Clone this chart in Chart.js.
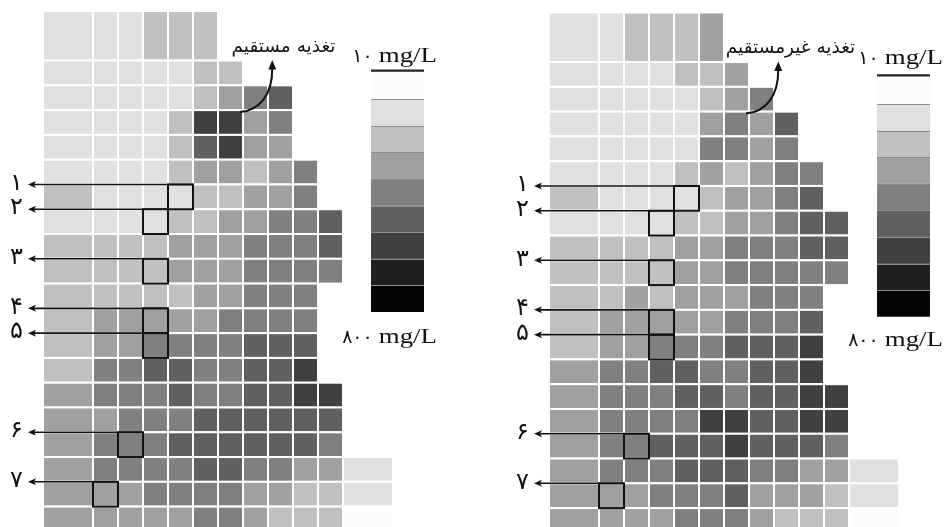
<!DOCTYPE html>
<html>
<head>
<meta charset="utf-8">
<script src="https://cdn.jsdelivr.net/npm/chart.js@4.4.1/dist/chart.umd.min.js"></script>
<style>
  html, body { margin: 0; padding: 0; background: #fff; }
  #wrap { position: relative; width: 945px; height: 527px; overflow: hidden; }
  canvas { position: absolute; top: 0; }
</style>
</head>
<body>
<div id="wrap">
  <canvas id="leftPanel" width="500" height="527" style="left:0"></canvas>
  <canvas id="rightPanel" width="439" height="527" style="left:506px"></canvas>
</div>
<script>
// grid geometry in model cell units (first/last column and first row are double size)
const colEdges = [0, 2, 3, 4, 5, 6, 7, 8, 9, 10, 11, 12, 14];
const rowEdges = [0, 2, 3, 4, 5, 6, 7, 8, 9, 10, 11, 12, 13, 14, 15, 16, 17, 18, 19, 20, 21];

// concentration class per cell (0 = lowest 10 mg/L ... 8 = highest 800 mg/L), row by row
const directRecharge = [
  [1, 1, 1, 2, 2, 2],
  [1, 1, 1, 1, 1, 2, 2],
  [1, 1, 1, 1, 1, 2, 3, 4, 5],
  [1, 1, 1, 1, 2, 6, 6, 3, 4],
  [1, 1, 1, 1, 2, 5, 6, 3, 3],
  [1, 1, 1, 1, 2, 3, 3, 2, 3, 4],
  [2, 1, 1, 1, 1, 2, 2, 3, 3, 4],
  [1, 1, 1, 1, 2, 2, 3, 3, 4, 4, 5],
  [2, 2, 2, 2, 3, 3, 3, 4, 4, 4, 5],
  [2, 2, 2, 2, 3, 3, 3, 4, 4, 4, 4],
  [2, 2, 2, 2, 2, 3, 3, 4, 4, 4],
  [2, 3, 3, 3, 3, 3, 4, 4, 4, 4],
  [2, 3, 3, 4, 4, 4, 4, 5, 5, 5],
  [2, 4, 4, 5, 5, 4, 4, 5, 5, 6],
  [3, 4, 4, 4, 5, 4, 4, 5, 5, 6, 6],
  [3, 3, 4, 4, 4, 5, 5, 5, 5, 5, 5],
  [3, 4, 4, 4, 5, 5, 5, 5, 5, 5, 4],
  [3, 4, 4, 4, 4, 5, 5, 4, 4, 3, 3, 1],
  [3, 3, 3, 4, 4, 4, 4, 3, 3, 2, 2, 1],
  [3, 3, 3, 3, 3, 4, 4, 3, 2, 2, 2, 0]
];
const indirectRecharge = [
  [1, 1, 2, 2, 2, 3],
  [1, 1, 1, 1, 2, 2, 3],
  [1, 1, 1, 1, 1, 2, 3, 4],
  [1, 1, 1, 1, 1, 3, 4, 3, 5],
  [1, 1, 1, 1, 1, 4, 4, 3, 4],
  [1, 1, 1, 1, 2, 3, 2, 3, 4, 4],
  [2, 1, 1, 1, 1, 2, 3, 3, 4, 5],
  [1, 1, 1, 1, 2, 2, 3, 3, 4, 5, 5],
  [2, 2, 2, 2, 3, 3, 4, 4, 4, 5, 5],
  [2, 2, 2, 2, 3, 3, 4, 4, 4, 4, 4],
  [2, 2, 3, 2, 3, 3, 3, 4, 4, 4],
  [2, 3, 3, 3, 3, 3, 4, 4, 4, 5],
  [2, 3, 3, 4, 4, 4, 5, 5, 5, 6],
  [3, 4, 4, 5, 5, 4, 4, 5, 5, 6],
  [3, 4, 4, 4, 5, 5, 4, 5, 5, 6, 6],
  [3, 4, 4, 4, 4, 6, 6, 5, 5, 6, 6],
  [3, 4, 4, 5, 5, 5, 6, 5, 5, 5, 4],
  [3, 4, 4, 4, 5, 5, 5, 4, 4, 3, 3, 1],
  [3, 3, 3, 4, 4, 4, 5, 3, 3, 3, 2, 1],
  [3, 3, 3, 3, 4, 4, 4, 3, 2, 2, 2, 0]
];

// observation cells marked with numbers
const markLabels = ['۱', '۲', '۳', '۴', '۵', '۶', '۷'];
const markCols = [4, 3, 3, 3, 3, 2, 1];
const markRows = [6, 7, 9, 11, 12, 16, 18];

// legend classes and labels
const legendClasses = [0, 1, 2, 3, 4, 5, 6, 7, 8];
const legendTop = '۱۰ mg/L';
const legendBottom = '۸۰۰ mg/L';
const panelTitles = ['تغذیه مستقیم', 'تغذیه غیرمستقیم'];

// styles
const GRAYS = ['#fcfcfc', '#e0e0e0', '#c0c0c0', '#a0a0a0', '#808080', '#606060', '#404040', '#202020', '#050505'];
const ROW_PX = 24.78;
const COL_PX = 25;

function buildCells(values) {
  const cells = [];
  values.forEach((row, r) => {
    row.forEach((v, c) => {
      cells.push({
        x: (colEdges[c] + colEdges[c + 1]) / 2,
        y: (rowEdges[r] + rowEdges[r + 1]) / 2,
        x0: colEdges[c], x1: colEdges[c + 1],
        y0: rowEdges[r], y1: rowEdges[r + 1],
        v: v
      });
    });
  });
  return cells;
}

// text stretched horizontally, anchored at its right edge; returns drawn width
function stretchedText(ctx, txt, xRight, y, sx) {
  ctx.save();
  ctx.translate(xRight, y);
  ctx.scale(sx, 1);
  ctx.textAlign = 'right';
  ctx.fillText(txt, 0, 0);
  const w = ctx.measureText(txt).width * sx;
  ctx.restore();
  return w;
}

// "۱۰ mg/L": unit in stretched serif, persian number left of it
function legendLabel(ctx, label, xRight, y) {
  const parts = label.split(' ');
  ctx.font = '21px "Liberation Serif"';
  const w = stretchedText(ctx, parts[1], xRight, y, 1.28);
  ctx.font = '19px "DejaVu Sans"';
  ctx.textAlign = 'right';
  ctx.fillText(parts[0], xRight - w - 6, y);
}

function makePanel(canvasId, values, title, topPx, legendShift, titleRight) {
  const canvas = document.getElementById(canvasId);
  const originX = 43;

  const panelPlugin = {
    id: 'gridPanel',
    afterDatasetsDraw(chart) {
      const ctx = chart.ctx;
      const xs = chart.scales.x;
      const ys = chart.scales.y;
      const X = v => xs.getPixelForValue(v);
      const Y = v => ys.getPixelForValue(v);
      ctx.save();

      // cells
      chart.data.datasets[0].data.forEach(cell => {
        const l = X(cell.x0), r = X(cell.x1), t = Y(cell.y0), b = Y(cell.y1);
        ctx.fillStyle = GRAYS[cell.v];
        ctx.fillRect(l, t, r - l, b - t);
        ctx.strokeStyle = '#ffffff';
        ctx.lineWidth = 2;
        ctx.strokeRect(l, t, r - l, b - t);
      });

      // marked cells with arrows and numbers
      markLabels.forEach((lab, i) => {
        const c = markCols[i], rr = markRows[i];
        const l = X(colEdges[c]), r = X(colEdges[c + 1]);
        const t = Y(rowEdges[rr]), b = Y(rowEdges[rr + 1]);
        ctx.strokeStyle = '#111';
        ctx.lineWidth = 2;
        ctx.strokeRect(l, t, r - l, b - t);
        const tip = X(-0.6);
        ctx.lineWidth = 1.6;
        ctx.beginPath();
        ctx.moveTo(r, t);
        ctx.lineTo(tip + 5, t);
        ctx.stroke();
        ctx.fillStyle = '#111';
        ctx.beginPath();
        ctx.moveTo(tip, t);
        ctx.lineTo(tip + 8, t - 3.5);
        ctx.lineTo(tip + 6, t);
        ctx.lineTo(tip + 8, t + 3.5);
        ctx.closePath();
        ctx.fill();
        ctx.font = '24px "DejaVu Sans"';
        ctx.textAlign = 'center';
        ctx.textBaseline = 'middle';
        ctx.fillText(lab, X(-1.06), t - 1);
      });

      // title with curved arrow
      ctx.fillStyle = '#111';
      ctx.font = '18.5px "DejaVu Sans"';
      ctx.direction = 'rtl';
      ctx.textBaseline = 'alphabetic';
      stretchedText(ctx, title, X(titleRight), Y(1.64), 1);
      ctx.direction = 'ltr';
      ctx.strokeStyle = '#111';
      ctx.lineWidth = 2;
      ctx.beginPath();
      ctx.moveTo(X(7.88), Y(4.08));
      ctx.bezierCurveTo(X(8.65), Y(4.0), X(9.18), Y(3.4), X(9.17), Y(2.3));
      ctx.stroke();
      ctx.beginPath();
      ctx.moveTo(X(9.17), Y(1.98));
      ctx.lineTo(X(9.17) - 4, Y(2.36));
      ctx.lineTo(X(9.17) + 4, Y(2.36));
      ctx.closePath();
      ctx.fill();

      // legend bar
      const lx0 = X(13.12), lx1 = X(15.24);
      const blockH = 1.073;
      const ly0 = 2.49 + legendShift;
      legendClasses.forEach((cls, k) => {
        const t = Y(ly0 + k * blockH), b = Y(ly0 + (k + 1) * blockH);
        ctx.fillStyle = GRAYS[cls];
        ctx.fillRect(lx0, t, lx1 - lx0, b - t);
        if (k > 0) {
          ctx.strokeStyle = '#8c8c8c';
          ctx.lineWidth = 1;
          ctx.beginPath();
          ctx.moveTo(lx0, Math.round(t) + 0.5);
          ctx.lineTo(lx1, Math.round(t) + 0.5);
          ctx.stroke();
        }
      });
      ctx.strokeStyle = '#222';
      ctx.lineWidth = 2.2;
      ctx.beginPath();
      ctx.moveTo(lx0, Y(ly0) - 2);
      ctx.lineTo(lx1, Y(ly0) - 2);
      ctx.stroke();

      ctx.fillStyle = '#111';
      ctx.textBaseline = 'alphabetic';
      legendLabel(ctx, legendTop, X(15.76), Y(2.04 + legendShift * 0.3));
      legendLabel(ctx, legendBottom, X(15.76), Y(13.4 + legendShift * 0.5));

      ctx.restore();
    }
  };

  return new Chart(canvas, {
    type: 'scatter',
    data: {
      datasets: [{
        label: title,
        data: buildCells(values),
        pointRadius: 0,
        pointHoverRadius: 0,
        showLine: false
      }]
    },
    options: {
      responsive: false,
      animation: false,
      events: [],
      layout: { padding: 0 },
      plugins: { legend: { display: false }, tooltip: { enabled: false } },
      scales: {
        x: { type: 'linear', display: false, min: -originX / COL_PX, max: (canvas.width - originX) / COL_PX },
        y: { type: 'linear', display: false, reverse: true, min: -topPx / ROW_PX, max: (canvas.height - topPx) / ROW_PX }
      }
    },
    plugins: [panelPlugin]
  });
}

makePanel('leftPanel', directRecharge, panelTitles[0], 11, 0, 11.7);
makePanel('rightPanel', indirectRecharge, panelTitles[1], 12.5, 0.13, 12.25);
</script>
</body>
</html>
